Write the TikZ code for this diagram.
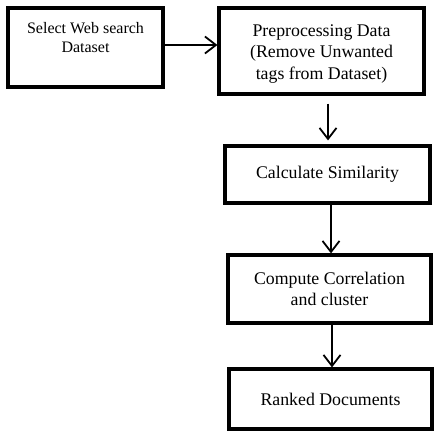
\documentclass[tikz,border=0pt]{standalone}
\usepackage{fontspec}
\setmainfont{Liberation Serif}
\usetikzlibrary{arrows.meta,positioning}

\begin{document}
\begin{tikzpicture}[
  x=1pt, y=-1pt,
  box/.style={draw, line width=3.2pt, align=center, inner sep=0pt,
    font=\fontsize{17.8}{21.5}\selectfont},
  arr/.style={-{Straight Barb[length=11pt,width=17pt,line width=1.8pt]}, line width=1.8pt}
]
\useasboundingbox (0,0) rectangle (439,436);
\node[box, minimum width=155pt, minimum height=79pt, font=\fontsize{16}{19}\selectfont] (select) at (85.5,47.5) {Select Web search\\Dataset\\[2pt]~};
\node[box, minimum width=205pt, minimum height=86pt] (preproc) at (321.5,51) {\\[-4pt]Preprocessing Data\\(Remove Unwanted\\tags from Dataset)};
\node[box, minimum width=205pt, minimum height=57pt] (simil) at (327.5,174.5) {Calculate Similarity};
\node[box, minimum width=203pt, minimum height=68pt] (correl) at (329.5,289) {Compute Correlation\\and cluster};
\node[box, minimum width=203pt, minimum height=60pt] (ranked) at (330.5,399) {Ranked Documents};
\draw[arr] (select.east |- 0,45) -- (preproc.west |- 0,45);
\draw[arr] ([yshift=-8pt]preproc.south -| 328,0) -- ([yshift=4pt]simil.north -| 328,0);
\draw[arr] (simil.south -| 331,0) -- (correl.north -| 331,0);
\draw[arr] (correl.south -| 332,0) -- (ranked.north -| 332,0);
\end{tikzpicture}
\end{document}
